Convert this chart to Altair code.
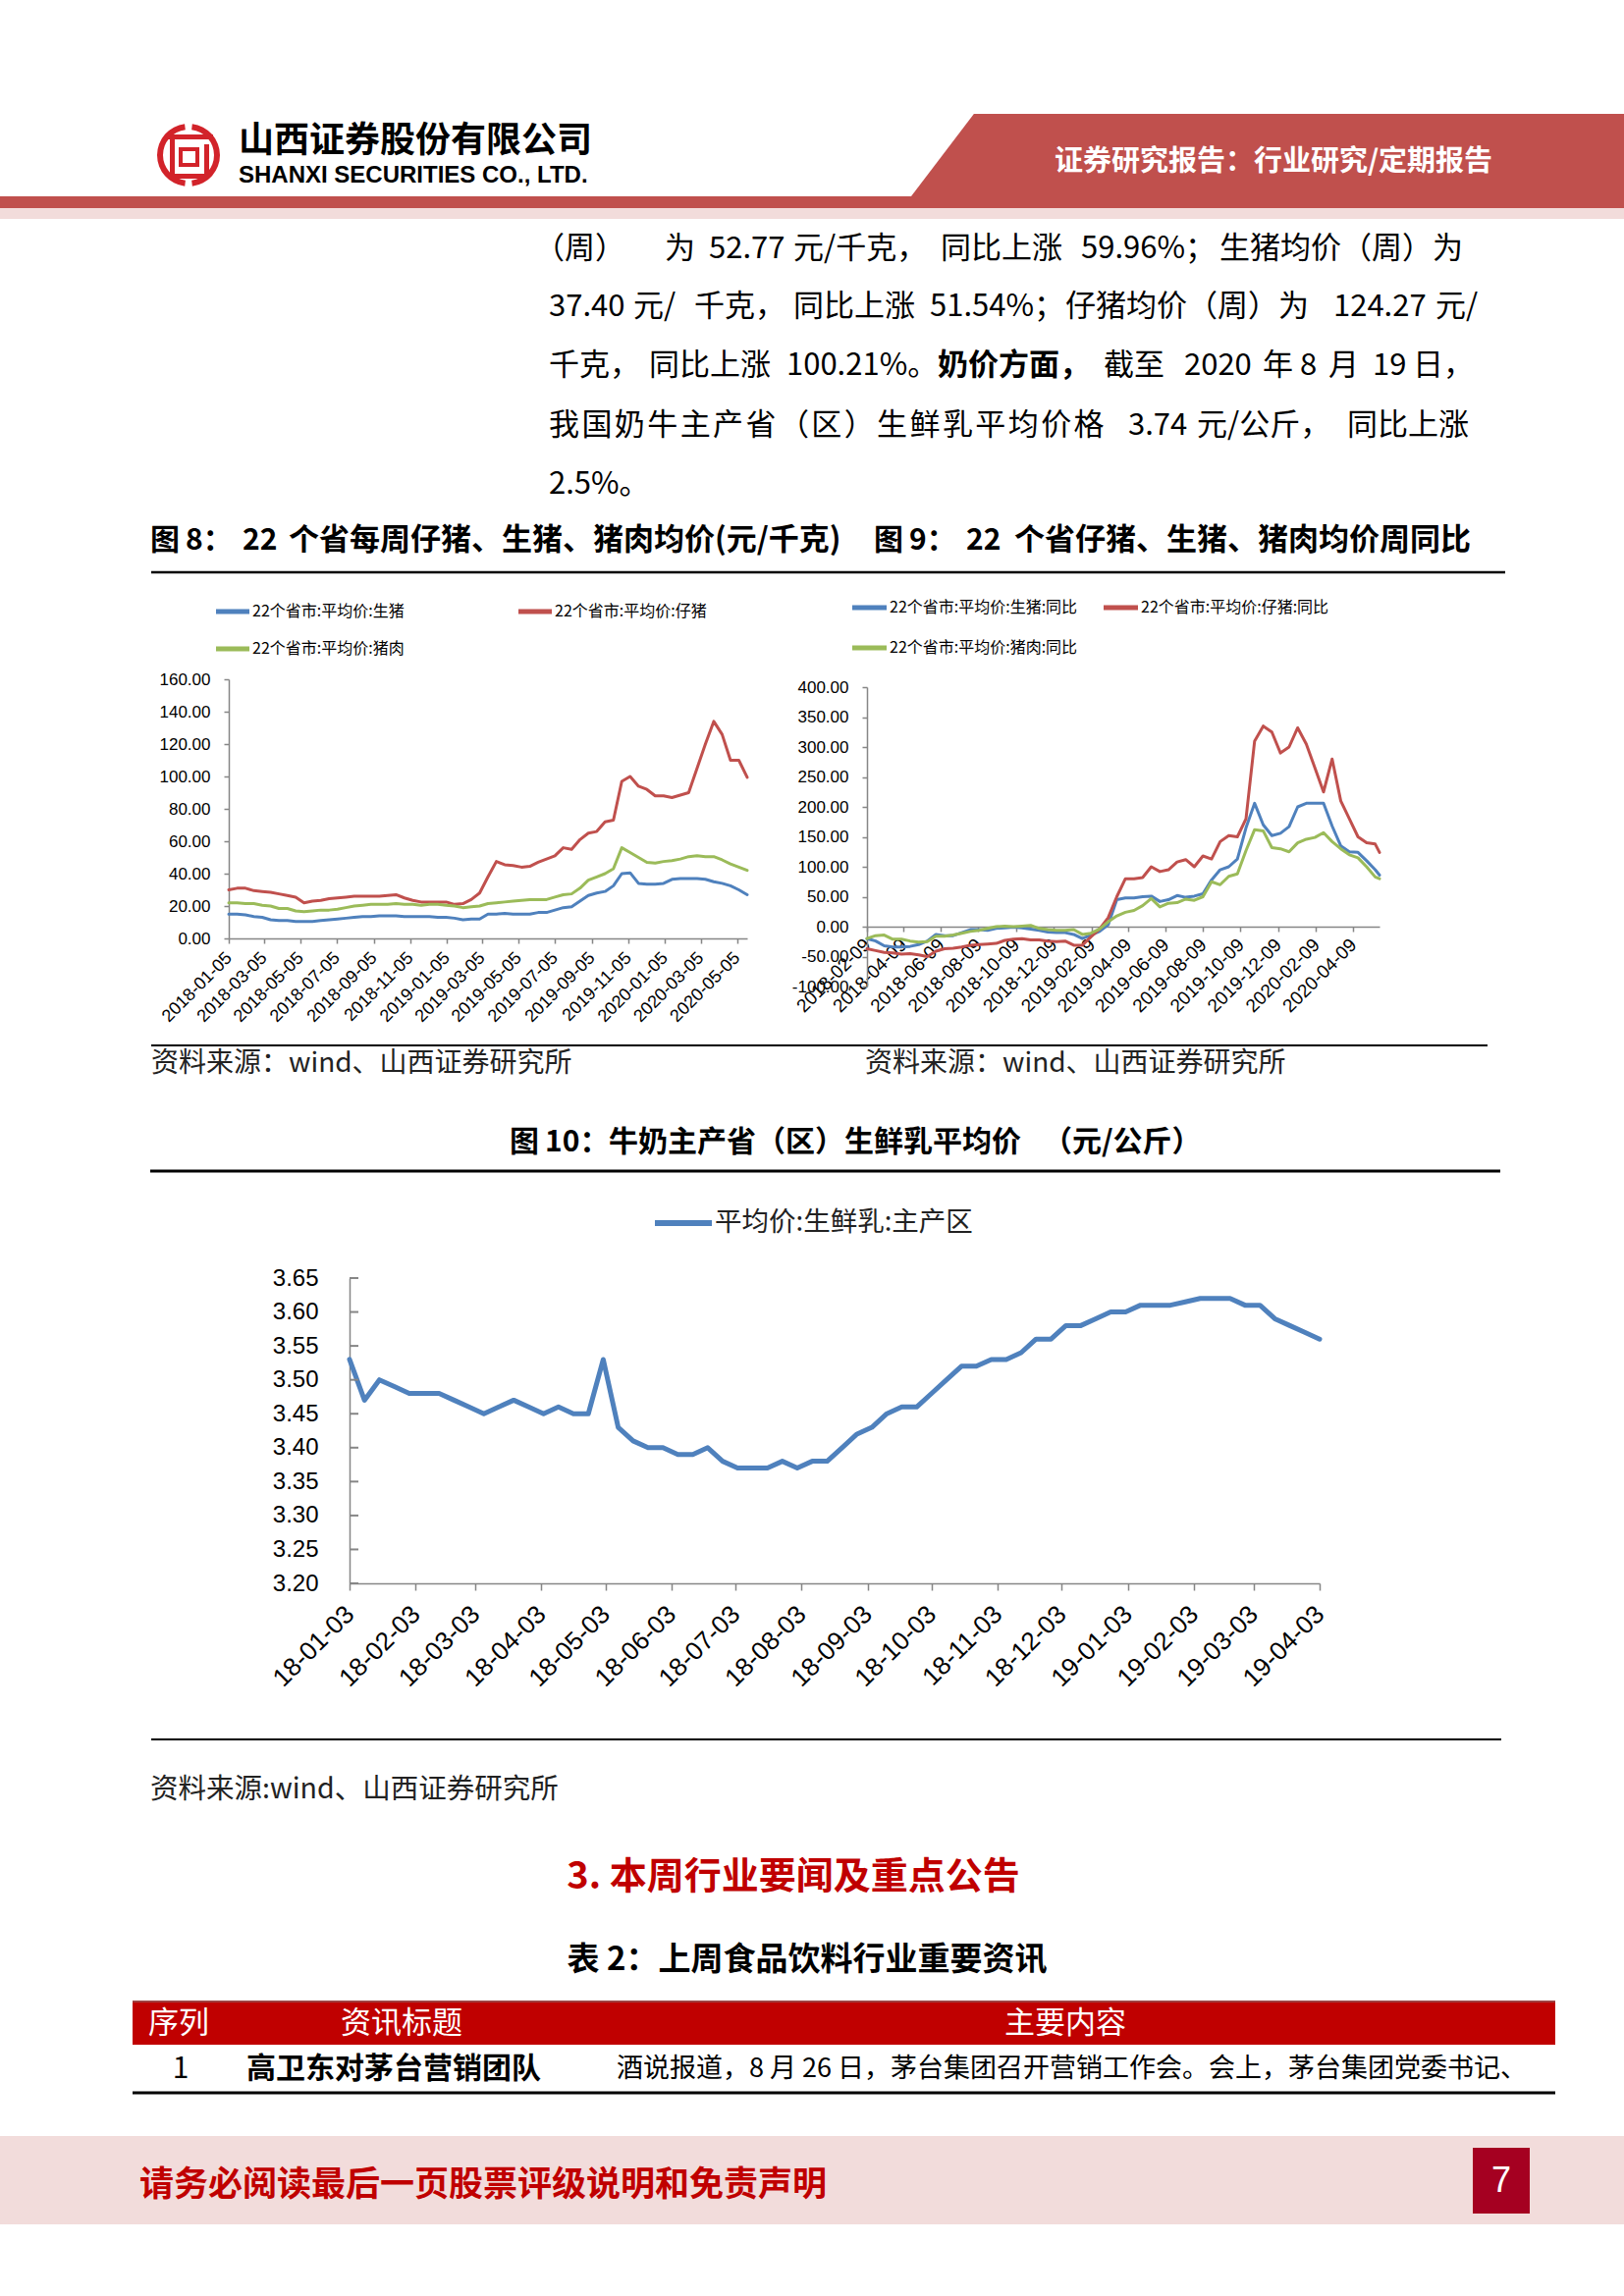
import altair as alt
import pandas as pd

W, H = 1654, 2339
CJK = "Noto Sans CJK SC"
LAT = "Liberation Sans"
BLUE, RED, GREEN = "#4F81BD", "#C0504D", "#9BBB59"
GRAY = "#868686"
BANNER = "#C0504D"
PINK = "#F2DCDB"
DEEP_RED = "#C00000"
LOGO = "#D2232A"

# ---------------- data ----------------
# Fig 8: 22 provinces weekly prices (sampled every 2 weeks), yuan/kg
pig_dates = pd.date_range("2018-01-05", periods=63, freq="14D").strftime("%Y-%m-%d").tolist()
hog_price = [15, 15, 14.5, 13.5, 13, 11.5, 11, 11, 10.5, 10.5,
             10.5, 11, 11.5, 12, 12.5, 13, 13.5, 13.5, 14, 14,
             14, 13.5, 13.5, 13.5, 13.5, 13, 13, 12.5, 11.5, 12,
             12, 15, 15, 15.5, 15, 15, 15, 16, 16, 17.5,
             19, 19.5, 23, 26.5, 28, 29, 32.5, 40, 40.5, 34,
             33.5, 33.5, 34, 36.5, 37, 37, 37, 36.5, 35, 34,
             32.5, 30, 27]
piglet_price = [30, 31, 31, 29.5, 29, 28.5, 27.5, 26.5, 25.5, 22,
                23, 23.5, 24.5, 25, 25.5, 26, 26, 26, 26, 26.5,
                27, 25, 23.5, 22.5, 22.5, 22.5, 22.5, 21, 21.5, 24,
                28, 38, 47.5, 45.5, 45, 44, 44.5, 47, 49, 51,
                56, 55, 61, 65, 66, 72, 73, 97, 100, 94,
                92, 88, 88, 87, 88.5, 90, 105, 120, 134, 126,
                110, 110, 99.5]
pork_price = [22, 22, 21.5, 21.5, 20.5, 20, 18.5, 18.5, 17, 16.5,
              17, 17.5, 17.5, 18, 19, 20, 20.5, 21, 21, 21,
              21.5, 21, 21, 20.5, 21, 21, 20.5, 20, 19, 19.5,
              20, 21.5, 22, 22.5, 23, 23.5, 24, 24, 24, 25.5,
              27, 27.5, 31, 36, 38, 40, 43, 56, 53, 50,
              47, 46.5, 47.5, 48, 49, 50.5, 51, 50.5, 50.5, 48.5,
              46, 44, 42]
pig_ticks = ["2018-01-05", "2018-03-05", "2018-05-05", "2018-07-05", "2018-09-05",
             "2018-11-05", "2019-01-05", "2019-03-05", "2019-05-05", "2019-07-05",
             "2019-09-05", "2019-11-05", "2020-01-05", "2020-03-05", "2020-05-05"]
pig_yticks = [0, 20, 40, 60, 80, 100, 120, 140, 160]

# Fig 9: year-on-year change, %
yoy_dates = pd.date_range("2018-02-09", periods=60, freq="14D").strftime("%Y-%m-%d").tolist() + ["2020-05-22"]
hog_yoy = [-20, -24, -32, -34, -34, -33, -30, -24, -13, -15,
           -15, -10, -5, -5, -6, -3, -2, -1, -2, -4,
           -6, -9, -10, -10, -13, -20, -14, -8, 3, 45,
           48, 48, 50, 51, 42, 45, 52, 49, 51, 55,
           78, 95, 100, 113, 165, 206, 170, 152, 156, 167,
           200, 206, 206, 206, 168, 135, 125, 124, 110, 95,
           86]
piglet_yoy = [-37, -40, -43, -44, -46, -45, -47, -50, -41, -37,
              -36, -34, -31, -30, -29, -28, -23, -21, -20, -22,
              -22, -24, -25, -24, -31, -31, -17, -4, 15, 50,
              80, 80, 82, 100, 92, 95, 108, 112, 100, 118,
              113, 142, 152, 150, 180, 310, 335, 325, 290, 300,
              332, 305, 265, 225, 280, 210, 180, 150, 140, 138,
              124]
pork_yoy = [-20, -15, -14, -21, -21, -24, -26, -25, -16, -16,
            -14, -11, -8, -6, -3, 0, 1, 0, 1, 2,
            -3, -5, -6, -6, -5, -13, -11, -4, 8, 18,
            24, 27, 35, 47, 33, 39, 40, 46, 44, 50,
            75, 70, 84, 88, 127, 162, 160, 132, 130, 125,
            140, 146, 149, 157, 142, 130, 120, 115, 100, 83,
            80]
yoy_ticks = ["2018-02-09", "2018-04-09", "2018-06-09", "2018-08-09", "2018-10-09",
             "2018-12-09", "2019-02-09", "2019-04-09", "2019-06-09", "2019-08-09",
             "2019-10-09", "2019-12-09", "2020-02-09", "2020-04-09"]
yoy_yticks = [-100, -50, 0, 50, 100, 150, 200, 250, 300, 350, 400]

# Fig 10: raw milk average price, yuan/kg (weekly)
milk_dates = ["2018-01-03", "2018-01-10", "2018-01-17", "2018-01-24", "2018-01-31",
              "2018-02-07", "2018-02-14", "2018-02-21", "2018-02-28",
              "2018-03-07", "2018-03-14", "2018-03-21", "2018-03-28",
              "2018-04-04", "2018-04-11", "2018-04-18", "2018-04-25",
              "2018-05-02", "2018-05-09", "2018-05-16", "2018-05-23", "2018-05-30",
              "2018-06-06", "2018-06-13", "2018-06-20", "2018-06-27",
              "2018-07-04", "2018-07-11", "2018-07-18", "2018-07-25",
              "2018-08-01", "2018-08-08", "2018-08-15", "2018-08-22", "2018-08-29",
              "2018-09-05", "2018-09-12", "2018-09-19", "2018-09-26",
              "2018-10-03", "2018-10-10", "2018-10-17", "2018-10-24", "2018-10-31",
              "2018-11-07", "2018-11-14", "2018-11-21", "2018-11-28",
              "2018-12-05", "2018-12-12", "2018-12-19", "2018-12-26",
              "2019-01-02", "2019-01-09", "2019-01-16", "2019-01-23", "2019-01-30",
              "2019-02-06", "2019-02-13", "2019-02-20", "2019-02-27",
              "2019-03-06", "2019-03-13", "2019-03-20", "2019-03-27",
              "2019-04-03"]
milk_price = [3.53, 3.47, 3.50, 3.49, 3.48, 3.48, 3.48, 3.47, 3.46, 3.45,
              3.46, 3.47, 3.46, 3.45, 3.46, 3.45, 3.45, 3.53, 3.43, 3.41,
              3.40, 3.40, 3.39, 3.39, 3.40, 3.38, 3.37, 3.37, 3.37, 3.38,
              3.37, 3.38, 3.38, 3.40, 3.42, 3.43, 3.45, 3.46, 3.46, 3.48,
              3.50, 3.52, 3.52, 3.53, 3.53, 3.54, 3.56, 3.56, 3.58, 3.58,
              3.59, 3.60, 3.60, 3.61, 3.61, 3.61, 3.615, 3.62, 3.62, 3.62,
              3.61, 3.61, 3.59, 3.58, 3.57, 3.56]
milk_ticks = ["2018-01-03", "2018-02-03", "2018-03-03", "2018-04-03", "2018-05-03",
              "2018-06-03", "2018-07-03", "2018-08-03", "2018-09-03", "2018-10-03",
              "2018-11-03", "2018-12-03", "2019-01-03", "2019-02-03", "2019-03-03",
              "2019-04-03"]
milk_yticks = [3.20, 3.25, 3.30, 3.35, 3.40, 3.45, 3.50, 3.55, 3.60, 3.65]

# ---------------- helpers ----------------
ONE = alt.Data(values=[{"k": 0}])


def dt(s):
    y, m, d = (int(p) for p in s.split("-"))
    return alt.DateTime(year=y, month=m, date=d, utc=True)


def txt(s, x, y, size, color="#000000", weight="normal", align="left", font=CJK):
    return alt.Chart(ONE).mark_text(
        text=s, align=align, baseline="middle", fontSize=size, font=font,
        fontWeight=weight, color=color
    ).encode(x=alt.value(x), y=alt.value(y))


def spread(s, x0, x1, y, size, color="#000000", weight="normal"):
    step = (x1 - x0) / len(s)
    return [txt(ch, x0 + i * step, y, size, color, weight) for i, ch in enumerate(s)]


def box(x0, x1, y0, y1, color):
    return alt.Chart(ONE).mark_rect(color=color, opacity=1).encode(
        x=alt.value(x0), x2=alt.value(x1), y=alt.value(y0), y2=alt.value(y1))


def hline(x0, x1, y, width, color="#000000"):
    return alt.Chart(ONE).mark_rule(color=color, strokeWidth=width).encode(
        x=alt.value(x0), x2=alt.value(x1), y=alt.value(y))


def x_axis(values, fmt, y_pos, size, pad, tick):
    return alt.Axis(orient="bottom", offset=-(H - y_pos), values=[dt(v) for v in values],
                    labelExpr="utcFormat(datum.value, '%s')" % fmt,
                    labelAngle=315, labelAlign="right",
                    labelBaseline="middle", labelFont=LAT, labelFontSize=size,
                    labelColor="#000000", labelPadding=pad, labelOverlap=False,
                    labelFlush=False, labelBound=False, tickSize=tick, tickColor=GRAY,
                    tickWidth=1.5, domainColor=GRAY, domainWidth=1.5, grid=False)


def y_axis(values, x_pos, size, pad, tick):
    return alt.Axis(orient="left", offset=-x_pos, values=values, format=".2f",
                    labelExpr="replace(datum.label, '\u2212', '-')",
                    labelFont=LAT, labelFontSize=size, labelColor="#000000",
                    labelPadding=pad, labelOverlap=False, labelFlush=False, labelBound=False,
                    tickSize=tick, tickColor=GRAY, tickWidth=1.5, domainColor=GRAY,
                    domainWidth=1.5, grid=False)


def series(dates, values, color, width, xdom, xrng, ydom, yrng, ax=None, ay=None):
    df = pd.DataFrame({"d": dates, "v": values})
    return alt.Chart(df).mark_line(
        color=color, strokeWidth=width, strokeJoin="round", strokeCap="round"
    ).encode(
        x=alt.X("d:T", title=None,
                scale=alt.Scale(type="utc", domain=[dt(xdom[0]), dt(xdom[1])], range=xrng),
                axis=ax),
        y=alt.Y("v:Q", title=None,
                scale=alt.Scale(domain=ydom, range=yrng, nice=False, zero=False),
                axis=ay),
    )


layers = []

# ---------------- header ----------------
layers.append(alt.Chart(ONE).mark_point(
    shape="M -0.824 -0.1157 L 1 -0.1157 L 1 0.1157 L -1 0.1157 Z",
    size=726 * 726, filled=True, opacity=1, color=BANNER, strokeWidth=0
).encode(x=alt.value(1291), y=alt.value(158)))
layers.append(box(0, W, 200, 212, BANNER))
layers.append(box(0, W, 212, 223, PINK))
layers.append(txt("证券研究报告：行业研究/定期报告", 1297, 165, 29, "#FFFFFF", "bold", "center"))

# logo
for t0, t1 in [(0.12, 3.02), (3.26, 6.16)]:
    layers.append(alt.Chart(ONE).mark_arc(
        theta=t0, theta2=t1, radius=32, radius2=26, color=LOGO
    ).encode(x=alt.value(192), y=alt.value(158)))
layers += [
    box(168, 217, 137, 142, LOGO),
    box(173, 178, 137, 182, LOGO),
    box(208, 213, 147, 182, LOGO),
    box(173, 213, 177, 182, LOGO),
    box(182, 203, 150, 170, LOGO),
    box(186, 199, 154, 166, "#FFFFFF"),
]
layers.append(txt("山西证券股份有限公司", 243, 144, 36, "#000000", "bold"))
layers.append(txt("SHANXI SECURITIES CO., LTD.", 243, 179, 24, "#000000", "bold", font=LAT))

# ---------------- paragraph ----------------
para = [
    (254, [("（周）", 544), ("为", 677), ("52.77", 722), ("元/千克，", 808), ("同比上涨", 958),
           ("59.96%；", 1101), ("生猪均价（周）为", 1242)]),
    (313, [("37.40", 559), ("元/", 645), ("千克，", 707), ("同比上涨", 808), ("51.54%；", 947),
           ("仔猪均价（周）为", 1085), ("124.27", 1358), ("元/", 1462)]),
    (373, [("千克，", 559), ("同比上涨", 661), ("100.21%。", 801), ("奶价方面，", 955, "bold"),
           ("截至", 1124), ("2020", 1206), ("年", 1286), ("8", 1324), ("月", 1353),
           ("19", 1398), ("日，", 1439)]),
    (434, [("3.74", 1149), ("元/公斤，", 1219), ("同比上涨", 1372)]),
    (494, [("2.5%。", 559)]),
]
for y, segs in para:
    for seg in segs:
        weight = seg[2] if len(seg) > 2 else "normal"
        layers.append(txt(seg[0], seg[1], y, 31, "#000000", weight))
layers += spread("我国奶牛主产省（区）生鲜乳平均价格", 559, 1127, 434, 31)

# ---------------- fig 8 / fig 9 titles ----------------
for s, x in [("图", 153), ("8：", 189), ("22", 247), ("个省每周仔猪、生猪、猪肉均价(元/千克)", 294),
             ("图", 890), ("9：", 926), ("22", 984), ("个省仔猪、生猪、猪肉均价周同比", 1033)]:
    layers.append(txt(s, x, 551, 30 if len(s) < 5 else 31, "#000000", "bold"))
layers.append(hline(154, 1533, 583, 2.5))

# ---------------- fig 8 ----------------
for (x0, y, col, lab) in [(220, 623, BLUE, "22个省市:平均价:生猪"),
                          (528, 623, RED, "22个省市:平均价:仔猪"),
                          (220, 661, GREEN, "22个省市:平均价:猪肉")]:
    layers.append(hline(x0, x0 + 34, y, 5, col))
    layers.append(txt(lab, x0 + 37, y, 16))

p8 = dict(xdom=("2018-01-05", "2020-05-22"), xrng=[233, 761], ydom=[0, 160], yrng=[956, 692])
layers.append(series(pig_dates, hog_price, BLUE, 3, **p8,
                     ax=x_axis(pig_ticks, "%Y-%m-%d", 956, 18, 12, 5),
                     ay=y_axis(pig_yticks, 233, 17, 14, 5)))
layers.append(series(pig_dates, piglet_price, RED, 3, **p8))
layers.append(series(pig_dates, pork_price, GREEN, 3, **p8))

# ---------------- fig 9 ----------------
for (x0, y, col, lab) in [(868, 619, BLUE, "22个省市:平均价:生猪:同比"),
                          (1124, 619, RED, "22个省市:平均价:仔猪:同比"),
                          (868, 660, GREEN, "22个省市:平均价:猪肉:同比")]:
    layers.append(hline(x0, x0 + 35, y, 5, col))
    layers.append(txt(lab, x0 + 38, y, 16))

p9 = dict(xdom=("2018-02-09", "2020-05-22"), xrng=[883, 1405], ydom=[-100, 400], yrng=[1005, 700])
layers.append(series(yoy_dates, hog_yoy, BLUE, 3, **p9,
                     ax=x_axis(yoy_ticks, "%Y-%m-%d", 944, 19, 10, 5),
                     ay=y_axis(yoy_yticks, 883, 17, 14, 5)))
layers.append(series(yoy_dates, piglet_yoy, RED, 3, **p9))
layers.append(series(yoy_dates, pork_yoy, GREEN, 3, **p9))

layers.append(hline(154, 1515, 1065, 2))
layers.append(txt("资料来源：wind、山西证券研究所", 154, 1084, 28, "#222222"))
layers.append(txt("资料来源：wind、山西证券研究所", 881, 1084, 28, "#222222"))

# ---------------- fig 10 ----------------
for s, x in [("图", 519), ("10：", 555), ("牛奶主产省（区）生鲜乳平均价", 620), ("（元/公斤）", 1062)]:
    layers.append(txt(s, x, 1164, 30, "#000000", "bold"))
layers.append(hline(153, 1528, 1193, 3))
layers.append(hline(667, 725, 1246, 6, BLUE))
layers.append(txt("平均价:生鲜乳:主产区", 728, 1246, 27.5, "#222222"))

p10 = dict(xdom=("2018-01-03", "2019-04-03"), xrng=[356, 1344], ydom=[3.20, 3.65], yrng=[1613, 1302])
layers.append(series(milk_dates, milk_price, BLUE, 5, **p10,
                     ax=x_axis(milk_ticks, "%y-%m-%d", 1613, 26, 20, 7),
                     ay=y_axis(milk_yticks, 356, 24, 32, 0)))
layers.append(alt.Chart(pd.DataFrame({"t": milk_yticks})).mark_rule(color=GRAY, strokeWidth=2).encode(
    y=alt.Y("t:Q", title=None, axis=None,
            scale=alt.Scale(domain=[3.20, 3.65], range=[1613, 1302], nice=False, zero=False)),
    x=alt.value(356), x2=alt.value(365)))

layers.append(hline(154, 1529, 1772, 2))
layers.append(txt("资料来源:wind、山西证券研究所", 153, 1823, 28.5, "#222222"))

# ---------------- section 3 + table ----------------
layers.append(txt("3. 本周行业要闻及重点公告", 808, 1913, 38, DEEP_RED, "bold", "center"))
layers.append(txt("表 2：上周食品饮料行业重要资讯", 822, 1997, 33, "#000000", "bold", "center"))
layers.append(box(135, 1584, 2040, 2083, DEEP_RED))
layers.append(hline(135, 1584, 2039, 1.5, "#7F0000"))
layers.append(txt("序列", 182, 2062, 31, "#FFFFFF", "normal", "center"))
layers.append(txt("资讯标题", 409, 2062, 31, "#FFFFFF", "normal", "center"))
layers.append(txt("主要内容", 1085, 2062, 31, "#FFFFFF", "normal", "center"))
layers.append(txt("1", 184, 2108, 30, "#000000", "normal", "center"))
layers.append(txt("高卫东对茅台营销团队", 251, 2108, 30, "#000000", "bold"))
layers.append(txt("酒说报道，8 月 26 日，茅台集团召开营销工作会。会上，茅台集团党委书记、",
                  628, 2108, 27, "#000000"))
layers.append(hline(135, 1584, 2132, 3))

# ---------------- footer ----------------
layers.append(box(0, W, 2176, 2266, PINK))
layers.append(txt("请务必阅读最后一页股票评级说明和免责声明", 142, 2226, 35, DEEP_RED, "bold"))
layers.append(box(1500, 1558, 2188, 2255, "#A50021"))
layers.append(txt("7", 1529, 2222, 36, "#FFFFFF", "normal", "center", LAT))

chart = alt.layer(*layers).resolve_scale(
    x="independent", y="independent"
).properties(
    width=W, height=H, padding=0, background="white",
    autosize=alt.AutoSizeParams(type="none")
).configure_view(strokeWidth=0)

chart.save("out.html", embed_options={"renderer": "svg", "actions": False})
